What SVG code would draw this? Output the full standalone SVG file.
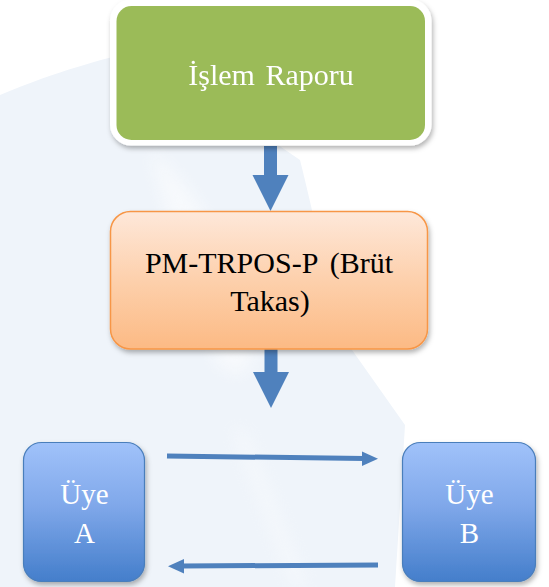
<svg xmlns="http://www.w3.org/2000/svg" width="549" height="587" viewBox="0 0 549 587">
  <defs>
    <linearGradient id="gOrange" x1="0" y1="0" x2="0" y2="1">
      <stop offset="0" stop-color="#FEE8DA"/>
      <stop offset="0.5" stop-color="#FDD0AC"/>
      <stop offset="1" stop-color="#FCBA84"/>
    </linearGradient>
    <linearGradient id="gBlue" x1="0" y1="0" x2="0" y2="1">
      <stop offset="0" stop-color="#A0C2FA"/>
      <stop offset="0.45" stop-color="#80A8EA"/>
      <stop offset="1" stop-color="#447ECB"/>
    </linearGradient>
    <filter id="shadow" x="-10%" y="-10%" width="125%" height="130%">
      <feDropShadow dx="1.5" dy="3" stdDeviation="2.5" flood-color="#000" flood-opacity="0.3"/>
    </filter>
    <filter id="soft" x="-20%" y="-20%" width="140%" height="140%">
      <feGaussianBlur stdDeviation="8"/>
    </filter>
  </defs>
  <style>
    text { font-family: "Liberation Serif", "Times New Roman", Times, "DejaVu Serif", serif; text-anchor: middle; }
    .light { fill: #FFFFFF; }
    .dark { fill: #000000; }
    .arrow { fill: #4F81BD; }
    .thin { stroke: #4F81BD; stroke-width: 5; fill: none; }
  </style>

  <!-- page background with faint watermark swoosh -->
  <rect x="0" y="0" width="549" height="587" fill="#FFFFFF"/>
  <g id="watermark">
    <path d="M0,95 C60,70 100,60 140,50 L300,160 C320,240 330,300 345,340 L405,425 L395,587 L0,587 Z" fill="#EFF4FA"/>
    <path d="M150,150 C200,190 230,250 250,330 C260,370 240,390 215,360 C190,300 170,230 150,150 Z" fill="#FFFFFF" opacity="0.5" filter="url(#soft)"/>
    <path d="M232,430 L246,430 L308,587 L292,587 Z" fill="#FFFFFF" opacity="0.35" filter="url(#soft)"/>
  </g>

  <!-- connectors -->
  <g id="connectors">
    <polygon class="arrow" points="264,146 277,146 277,175 288.5,175 270.5,211 252.5,175 264,175"/>
    <polygon class="arrow" points="264.5,338 277.5,338 277.5,372 289,372 271,408 253,372 264.5,372"/>
    <line class="thin" x1="167" y1="456" x2="364" y2="458.5"/>
    <polygon class="arrow" points="362,451.5 378,458.8 362,466"/>
    <line class="thin" x1="378" y1="565" x2="182" y2="566"/>
    <polygon class="arrow" points="184,559 168,566.3 184,573.5"/>
  </g>

  <!-- report node -->
  <g id="node-rapor" filter="url(#shadow)">
    <rect x="110" y="-0.5" width="321.5" height="146" rx="21" fill="#FFFFFF"/>
    <rect x="116.5" y="6" width="308.5" height="134" rx="15" fill="#9BBB59"/>
    <text class="light" x="271" y="85" font-size="30" word-spacing="3">İşlem Raporu</text>
  </g>

  <!-- gross clearing node -->
  <g id="node-takas">
    <rect x="110.5" y="211.5" width="317" height="137.5" rx="20" fill="url(#gOrange)" stroke="#F79646" stroke-width="1.5" filter="url(#shadow)"/>
    <text class="dark" x="269" y="273" font-size="30" word-spacing="5">PM-TRPOS-P (Brüt</text>
    <text class="dark" x="270" y="311" font-size="30">Takas)</text>
  </g>

  <!-- member A -->
  <g id="node-uye-a">
    <rect x="23.5" y="442.5" width="121" height="139" rx="18" fill="url(#gBlue)" stroke="#4A7EBB" stroke-width="1.2" filter="url(#shadow)"/>
    <text class="light" x="84.5" y="504" font-size="29">Üye</text>
    <text class="light" x="84.5" y="543" font-size="29">A</text>
  </g>

  <!-- member B -->
  <g id="node-uye-b">
    <rect x="402.5" y="442.5" width="133" height="139" rx="18" fill="url(#gBlue)" stroke="#4A7EBB" stroke-width="1.2" filter="url(#shadow)"/>
    <text class="light" x="469.5" y="504" font-size="29">Üye</text>
    <text class="light" x="469.5" y="543" font-size="29">B</text>
  </g>
</svg>
